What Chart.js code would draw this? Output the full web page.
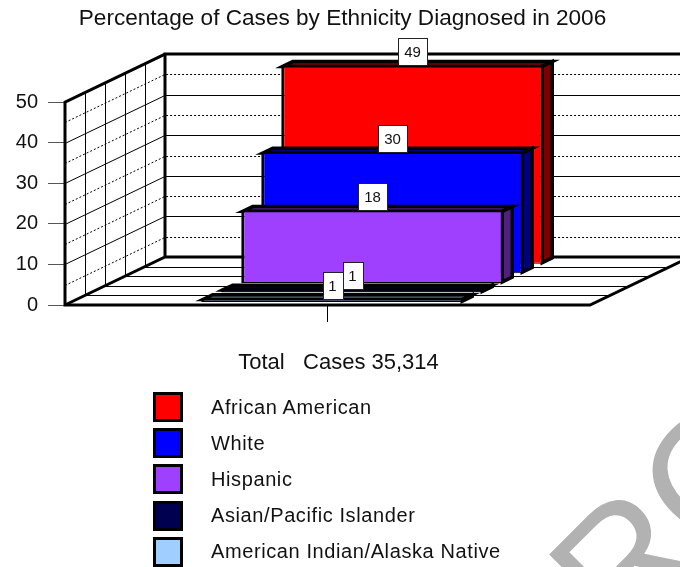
<!DOCTYPE html>
<html>
<head>
<meta charset="utf-8">
<title>Cases by Ethnicity 2006</title>
<script src="https://cdn.jsdelivr.net/npm/chart.js@4"></script>
<style>
html, body { margin: 0; padding: 0; background: #fff; overflow: hidden; }
#wrap { position: relative; width: 680px; height: 567px; overflow: hidden; }
#legend { position: absolute; left: 153px; top: 392px; font: 20px "Liberation Sans", Arial, sans-serif; color: #111; letter-spacing: 0.6px; }
#legend .row { display: flex; align-items: center; height: 30px; margin-bottom: 6.2px; white-space: nowrap; }
#legend .box { width: 24px; height: 24px; border: 3px solid #000; margin-right: 28px; flex: none; }
</style>
</head>
<body>
<div id="wrap">
<canvas id="chart" width="680" height="567"></canvas>
<div id="legend"></div>
</div>
<script>
const chartTitle = 'Percentage of Cases by Ethnicity Diagnosed in 2006';
const categories = ['Total   Cases 35,314'];
const seriesNames = ['African American', 'White', 'Hispanic', 'Asian/Pacific Islander', 'American Indian/Alaska Native'];
const seriesValues = [49, 30, 18, 1, 1];
const seriesColors = ['#ff0000', '#0000ff', '#9f3fff', '#000050', '#a0cfff'];
const barColors = ['#ff0000', '#0000ff', '#9f3fff', '#000050', '#50687f'];
const sideColors = ['#7f0000', '#00007f', '#50207f', '#000028', '#50687f'];
const yTicks = [0, 10, 20, 30, 40, 50];

// 3D box: the walls go this far back, bars sit in five slots along that depth
const depthX = 100;
const depthY = 48;
const slots = seriesNames.length;

function slotOffset(i) {
    const s = (slots - 1 - i + 0.25) / slots;
    return { x: depthX * s, y: -depthY * s };
}

const walls = {
    id: 'walls',
    beforeDatasetsDraw(chart) {
        const c = chart.ctx;
        const a = chart.chartArea;
        const y = chart.scales.y;
        const floorBack = a.bottom - depthY;
        c.save();
        c.strokeStyle = '#000';

        // left and back wall grid, every 5 units, dotted between the labelled ticks
        c.lineWidth = 1;
        for (let v = 5; v < 50; v += 5) {
            const py = Math.round(y.getPixelForValue(v));
            c.setLineDash(v % 10 ? [2, 2] : []);
            c.beginPath();
            c.moveTo(a.left, py + 0.5);
            c.lineTo(a.left + depthX, py - depthY + 0.5);
            c.lineTo(chart.width, py - depthY + 0.5);
            c.stroke();
        }
        c.setLineDash([]);

        // verticals on the left wall and depth lines on the floor
        for (let k = 1; k < slots; k++) {
            const s = k / slots;
            const vx = Math.round(a.left + depthX * s) + 0.5;
            const fy = Math.round(a.bottom - depthY * s) + 0.5;
            c.beginPath();
            c.moveTo(vx, a.top - depthY * s);
            c.lineTo(vx, a.bottom - depthY * s);
            c.stroke();
            c.beginPath();
            c.moveTo(a.left + depthX * s, fy);
            c.lineTo(a.right + depthX * s, fy);
            c.stroke();
        }

        // thick outline of the box
        c.lineWidth = 3;
        c.lineJoin = 'miter';
        c.beginPath();
        c.moveTo(a.left + depthX, a.top - depthY);
        c.lineTo(a.left, a.top);
        c.lineTo(a.left, a.bottom);
        c.lineTo(a.right, a.bottom);
        c.lineTo(a.right + depthX, floorBack);
        c.stroke();
        c.beginPath();
        c.moveTo(a.left, a.bottom);
        c.lineTo(a.left + depthX, floorBack);
        c.lineTo(chart.width, floorBack);
        c.moveTo(a.left + depthX, floorBack);
        c.lineTo(a.left + depthX, a.top - depthY);
        c.lineTo(chart.width, a.top - depthY);
        c.stroke();
        c.restore();
    }
};

const bars3d = {
    id: 'bars3d',
    beforeDatasetDraw(chart, args) {
        const c = chart.ctx;
        const i = args.index;
        const off = slotOffset(i);
        const bar = chart.getDatasetMeta(i).data[0];
        const l = bar.x - bar.width / 2;
        const r = bar.x + bar.width / 2;
        const dx = depthX / slots / 2;
        const dy = depthY / slots / 2;
        const top = bar.y + 1;
        c.save();
        c.translate(off.x, off.y);
        c.fillStyle = sideColors[i];
        c.strokeStyle = '#000';
        c.lineWidth = 3.5;
        c.lineJoin = 'miter';
        // top face
        c.beginPath();
        c.moveTo(l + 1.5, top);
        c.lineTo(l + 1.5 + dx, top - dy);
        c.lineTo(r - 1.5 + dx, top - dy);
        c.lineTo(r - 1.5, top);
        c.closePath();
        c.fill();
        c.stroke();
        // side face
        c.beginPath();
        c.moveTo(r - 1.5, top);
        c.lineTo(r - 1.5 + dx, top - dy);
        c.lineTo(r - 1.5 + dx, bar.base - 1 - dy);
        c.lineTo(r - 1.5, bar.base - 1);
        c.closePath();
        c.fill();
        c.stroke();
    },
    afterDatasetDraw(chart) {
        chart.ctx.restore();
    },
    afterDatasetsDraw(chart) {
        const c = chart.ctx;
        c.save();
        c.font = '15px "Liberation Sans", Arial, sans-serif';
        c.textAlign = 'center';
        c.textBaseline = 'middle';
        seriesValues.forEach((v, i) => {
            const off = slotOffset(i);
            const bar = chart.getDatasetMeta(i).data[0];
            const t = String(v);
            const w = Math.round(c.measureText(t).width) + 12;
            const cx = bar.x + off.x;
            const bottom = Math.round(bar.y + off.y) + 0.5;
            const left = Math.round(cx - w / 2) + 0.5;
            c.fillStyle = '#fff';
            c.fillRect(left, bottom - 27, w, 27);
            c.strokeStyle = '#222';
            c.lineWidth = 1;
            c.strokeRect(left, bottom - 27, w, 27);
            c.fillStyle = '#111';
            c.fillText(t, cx, bottom - 13);
        });
        c.restore();
    }
};

// faint stamp that crosses the lower right corner
const stamp = {
    id: 'stamp',
    beforeDraw(chart) {
        const c = chart.ctx;
        c.save();
        c.translate(622, 647);
        c.rotate(-Math.PI / 4);
        c.font = '170px "Liberation Sans", Arial, sans-serif';
        c.fillStyle = '#b2b2b2';
        c.textBaseline = 'alphabetic';
        c.fillText('RO', 0, 0);
        c.restore();
    }
};

new Chart(document.getElementById('chart'), {
    type: 'bar',
    data: {
        labels: categories,
        datasets: seriesNames.map((name, i) => ({
            label: name,
            data: [seriesValues[i]],
            backgroundColor: barColors[i],
            borderColor: '#000',
            borderWidth: { top: 2, left: 3, right: 3, bottom: 1 },
            borderSkipped: false,
            order: slots - i,
            clip: false
        }))
    },
    options: {
        responsive: false,
        animation: false,
        layout: { padding: { top: 0, left: 5, right: 0, bottom: 0 } },
        datasets: { bar: { grouped: false, categoryPercentage: 1, barPercentage: 0.5 } },
        plugins: {
            legend: { display: false },
            tooltip: { enabled: false },
            title: {
                display: true,
                text: chartTitle,
                color: '#111',
                font: { family: '"Liberation Sans", Arial, sans-serif', size: 22.6, weight: 'normal', lineHeight: 1.2 },
                padding: { top: 5, bottom: 70 }
            }
        },
        scales: {
            x: {
                afterFit(s) { s.height = 262; },
                border: { display: false },
                grid: { offset: false, drawOnChartArea: false, tickLength: 17, color: '#000', tickWidth: 1 },
                ticks: {
                    color: '#111',
                    labelOffset: 11,
                    padding: 28,
                    maxRotation: 0,
                    font: { family: '"Liberation Sans", Arial, sans-serif', size: 22 }
                }
            },
            y: {
                min: 0,
                max: 50,
                afterFit(s) { s.width = 60; },
                afterBuildTicks(s) { s.ticks = yTicks.map(v => ({ value: v })); },
                border: { display: false },
                grid: { drawOnChartArea: false, tickLength: 17, color: '#555', tickWidth: 1 },
                ticks: {
                    color: '#111',
                    padding: 10,
                    font: { family: '"Liberation Sans", Arial, sans-serif', size: 20 }
                }
            },
            // empty axis, holds the room the floor needs on the right
            depthGutter: {
                type: 'linear',
                position: 'right',
                afterFit(s) { s.width = 90; },
                border: { display: false },
                grid: { display: false },
                ticks: { display: false }
            }
        }
    },
    plugins: [stamp, walls, bars3d]
});

const legendEl = document.getElementById('legend');
seriesNames.forEach((name, i) => {
    const row = document.createElement('div');
    row.className = 'row';
    const box = document.createElement('span');
    box.className = 'box';
    box.style.background = seriesColors[i];
    const text = document.createElement('span');
    text.textContent = name;
    row.appendChild(box);
    row.appendChild(text);
    legendEl.appendChild(row);
});
</script>
</body>
</html>
